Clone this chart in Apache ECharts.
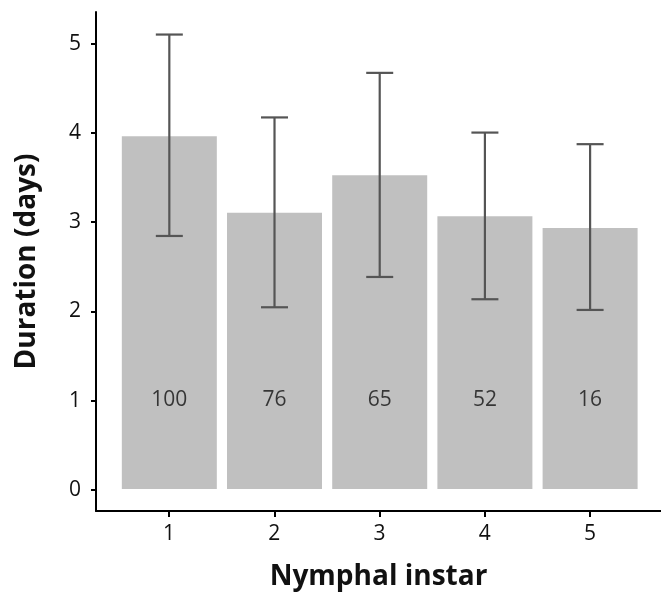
<!DOCTYPE html>
<html>
<head>
<meta charset="utf-8">
<script src="https://cdn.jsdelivr.net/npm/echarts@6/dist/echarts.min.js"></script>
<style>html,body{margin:0;padding:0;background:#fff}#c{width:661px;height:596px}</style>
</head>
<body>
<div id="c"></div>
<script>
const instars = [1, 2, 3, 4, 5];
const instarLabels = ['1', '2', '3', '4', '5'];
const meanDays = [3.96, 3.10, 3.52, 3.06, 2.93];
const lowerDays = [2.84, 2.04, 2.38, 2.13, 2.01];
const upperDays = [5.10, 4.17, 4.67, 4.00, 3.87];
const sampleSizes = [100, 76, 65, 52, 16];

const FONT = '"Open Sans", "Noto Sans", sans-serif';
const Y_MAX = 5.353;
const chart = echarts.init(document.getElementById('c'));
chart.setOption({
  animation: false,
  grid: [
    { left: 96, right: 0, top: 12, bottom: 84 },      // data + axis lines
    { left: 96, right: 0, top: 12, bottom: 106 },     // y ticks (0 .. max)
    { left: 116.5, right: 18.5, top: 12, bottom: 84 } // x ticks (categories)
  ],
  xAxis: [
    {
      gridIndex: 0, type: 'value', min: 0.303, max: 5.674,
      name: 'Nymphal instar', nameLocation: 'middle', nameGap: 52,
      nameTextStyle: { fontFamily: FONT, fontWeight: 'bold', fontSize: 28, color: '#111' },
      splitLine: { show: false }, axisTick: { show: false }, axisLabel: { show: false },
      axisLine: { show: true, onZero: false, lineStyle: { color: '#000', width: 2 } }
    },
    { gridIndex: 1, type: 'value', show: false },
    {
      gridIndex: 2, type: 'category', data: instarLabels, boundaryGap: true,
      axisLine: { show: false },
      axisTick: { show: true, alignWithLabel: true, length: 5, lineStyle: { color: '#000', width: 2 } },
      axisLabel: { fontFamily: FONT, fontSize: 21, color: '#111', margin: 12 },
      splitLine: { show: false }
    }
  ],
  yAxis: [
    {
      gridIndex: 0, type: 'value', min: -0.246, max: Y_MAX,
      name: 'Duration (days)', nameLocation: 'middle', nameGap: 55, nameRotate: 90,
      nameTextStyle: { fontFamily: FONT, fontWeight: 'bold', fontSize: 28, color: '#111' },
      splitLine: { show: false }, axisTick: { show: false }, axisLabel: { show: false },
      axisLine: { show: true, onZero: false, lineStyle: { color: '#000', width: 2 } }
    },
    {
      gridIndex: 1, type: 'value', min: 0, max: Y_MAX, interval: 1,
      axisLine: { show: false },
      axisTick: { show: true, length: 5, lineStyle: { color: '#000', width: 2 } },
      axisLabel: { fontFamily: FONT, fontSize: 21, color: '#111', margin: 15, showMaxLabel: false },
      splitLine: { show: false }
    },
    { gridIndex: 2, type: 'value', show: false }
  ],
  series: [
    {
      type: 'bar', xAxisIndex: 0, yAxisIndex: 0, barWidth: 95,
      itemStyle: { color: '#c0c0c0' },
      data: instars.map((x, i) => [x, meanDays[i]])
    },
    {
      type: 'custom', xAxisIndex: 0, yAxisIndex: 0,
      data: instars.map((x, i) => [x, lowerDays[i], upperDays[i]]),
      renderItem: function (params, api) {
        const lo = api.coord([api.value(0), api.value(1)]);
        const hi = api.coord([api.value(0), api.value(2)]);
        const w = 13.5;
        const style = { stroke: '#555', lineWidth: 2.2 };
        return {
          type: 'group',
          children: [
            { type: 'line', shape: { x1: lo[0], y1: lo[1], x2: hi[0], y2: hi[1] }, style },
            { type: 'line', shape: { x1: lo[0] - w, y1: lo[1], x2: lo[0] + w, y2: lo[1] }, style },
            { type: 'line', shape: { x1: hi[0] - w, y1: hi[1], x2: hi[0] + w, y2: hi[1] }, style }
          ]
        };
      },
      z: 5
    },
    {
      type: 'scatter', xAxisIndex: 0, yAxisIndex: 0, symbolSize: 0,
      data: instars.map((x, i) => [x, 1, sampleSizes[i]]),
      label: {
        show: true, position: 'inside',
        formatter: p => String(p.value[2]),
        fontFamily: FONT, fontSize: 21, color: '#111'
      },
      z: 6
    }
  ]
});
</script>
</body>
</html>
